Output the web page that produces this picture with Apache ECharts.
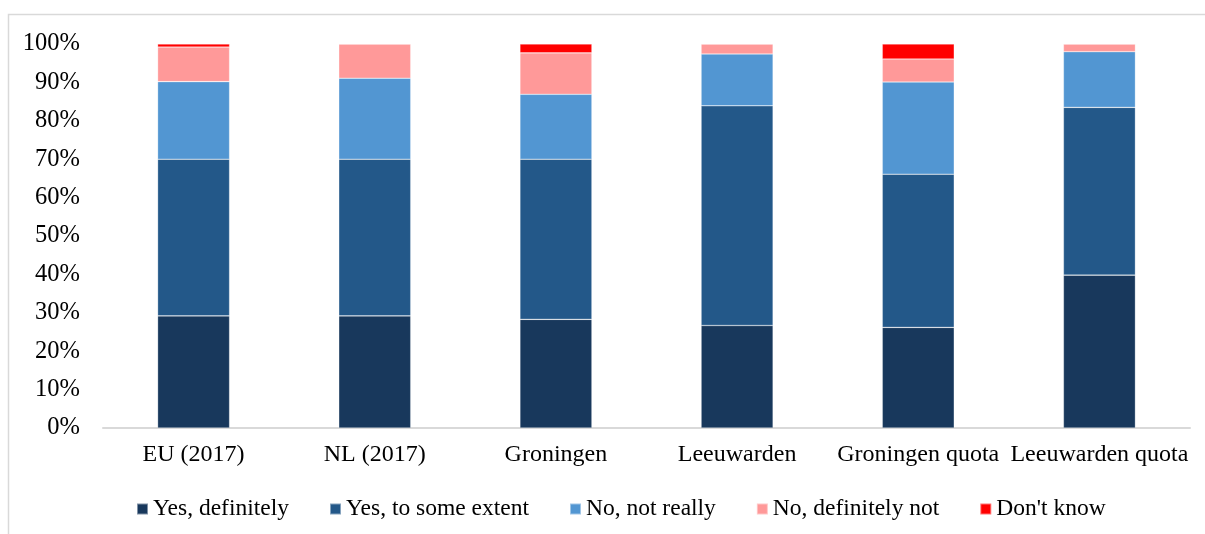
<!DOCTYPE html>
<html>
<head>
<meta charset="utf-8">
<script src="https://cdn.jsdelivr.net/npm/echarts@6/dist/echarts.min.js"></script>
<style>
html, body { margin: 0; padding: 0; background: #fff; }
#charts { width: 1205px; height: 534px; }
</style>
</head>
<body>
<div id="charts"></div>
<script>
// 数据
var categories = ['EU (2017)', 'NL (2017)', 'Groningen', 'Leeuwarden', 'Groningen quota', 'Leeuwarden quota'];
var yesDefinitely = [29.2, 29.2, 28.3, 26.7, 26.2, 39.8];
var yesSomeExtent = [40.8, 40.8, 41.7, 57.2, 39.9, 43.7];
var noNotReally = [20.2, 21.1, 16.9, 13.5, 24.0, 14.5];
var noDefinitelyNot = [9.0, 8.9, 10.8, 2.6, 6.0, 2.0];
var dontKnow = [0.8, 0, 2.3, 0, 3.9, 0];
var yTicks = [0, 10, 20, 30, 40, 50, 60, 70, 80, 90, 100];

var font = 'Liberation Serif';

function bar(name, data, color) {
	return {
		name: name,
		type: 'bar',
		stack: 'total',
		barWidth: 72,
		data: data,
		itemStyle: { color: color, borderColor: 'rgba(255,255,255,0.45)', borderWidth: 0.6 }
	};
}

var myChart = echarts.init(document.getElementById('charts'), null, { renderer: 'canvas' });
myChart.setOption({
	animation: false,
	backgroundColor: '#fff',
	graphic: [{
		type: 'rect',
		shape: { x: 8.5, y: 14.5, width: 1400, height: 700 },
		style: { fill: 'none', stroke: '#d9d9d9', lineWidth: 1.5 },
		silent: true
	}],
	grid: { left: 103, right: 15, top: 44, bottom: 106 },
	legend: {
		bottom: 8,
		left: 131,
		icon: 'rect',
		itemWidth: 11,
		itemHeight: 11,
		itemGap: 40,
		textStyle: { fontFamily: font, fontSize: 23.5, color: '#000' },
		data: ['Yes, definitely', 'Yes, to some extent', 'No, not really', 'No, definitely not', "Don't know"]
	},
	xAxis: {
		type: 'category',
		data: categories,
		axisLine: { lineStyle: { color: '#d9d9d9', width: 2 } },
		axisTick: { show: false },
		axisLabel: { fontFamily: font, fontSize: 24, color: '#000', margin: 15, interval: 0 }
	},
	yAxis: {
		type: 'value',
		min: yTicks[0],
		max: yTicks[yTicks.length - 1],
		interval: 10,
		axisLine: { show: false },
		axisTick: { show: false },
		splitLine: { show: false },
		axisLabel: { fontFamily: font, fontSize: 24.5, color: '#000', margin: 23, formatter: '{value}%' }
	},
	series: [
		bar('Yes, definitely', yesDefinitely, '#18385c'),
		bar('Yes, to some extent', yesSomeExtent, '#235889'),
		bar('No, not really', noNotReally, '#5296d2'),
		bar('No, definitely not', noDefinitelyNot, '#ff9999'),
		bar("Don't know", dontKnow, '#ff0000')
	]
});
</script>
</body>
</html>
